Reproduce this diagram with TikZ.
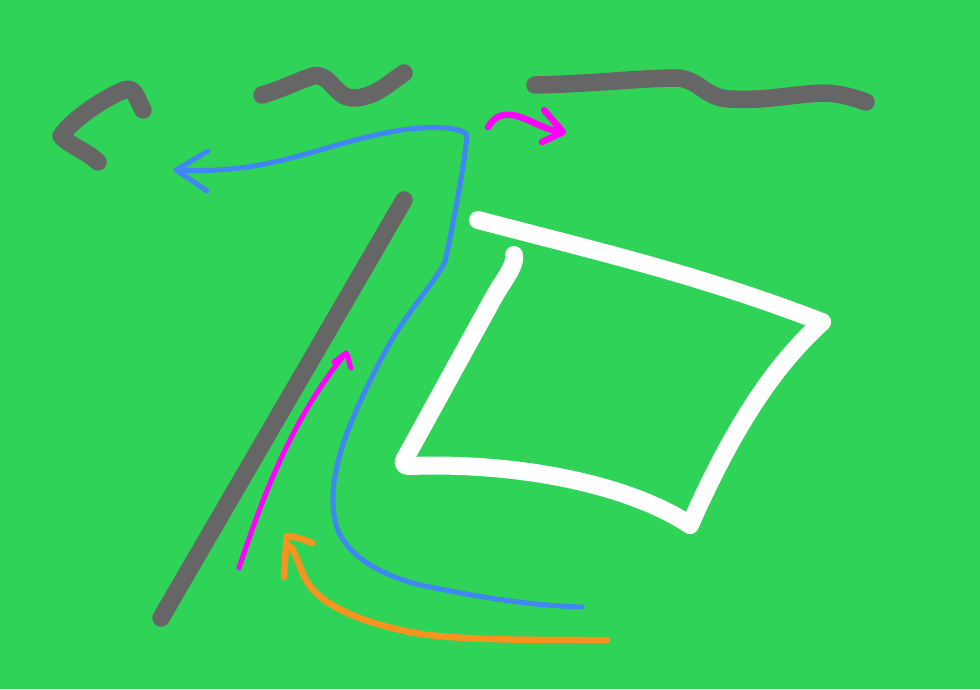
\documentclass[tikz,border=0pt]{standalone}
\begin{document}
\begin{tikzpicture}[x=1pt,y=-1pt,line cap=round,line join=round,
  grayst/.style={draw=strokegray,line width=17.5pt},
  bluest/.style={draw=penblue,line width=5pt},
  magst/.style={draw=penmag,line width=6.5pt},
  orst/.style={draw=penorange,line width=6.5pt},
  whst/.style={draw=white,line width=18pt}]
\definecolor{bggreen}{HTML}{2ED357}
\definecolor{strokegray}{HTML}{666666}
\definecolor{penblue}{HTML}{4285F4}
\definecolor{penmag}{HTML}{FF00FF}
\definecolor{penorange}{HTML}{F7931E}
\fill[bggreen] (0,0) rectangle (980,689);
\useasboundingbox (0,0) rectangle (980,689);
% gray strokes
\draw[grayst] (143,110) .. controls (136,98) and (135,86) .. (124,90) .. controls (100,100) and (70,122) .. (61,136) .. controls (70,146) and (88,152) .. (98,162);
\draw[grayst] (262,95) .. controls (285,88) and (300,80) .. (313,76) .. controls (330,72) and (335,98) .. (353,98) .. controls (375,98) and (390,82) .. (404,73);
\draw[grayst] (535,85) .. controls (590,84) and (640,78) .. (678,78) .. controls (700,80) and (705,98) .. (730,99) .. controls (770,101) and (790,94) .. (825,93) .. controls (845,94) and (860,100) .. (866,102);
\draw[grayst] (404,200) -- (161,618);
% blue
\draw[bluest] (582,607) .. controls (520,605) and (470,595) .. (420,585) .. controls (380,575) and (345,555) .. (336,525) .. controls (325,480) and (345,430) .. (378,365) .. controls (405,312) and (430,290) .. (445,262) .. controls (455,215) and (465,160) .. (467,135) .. controls (460,125) and (420,126) .. (390,132) .. controls (320,145) and (270,175) .. (176,170);
\draw[bluest] (208,151) -- (176,170) -- (207,191);
% magenta
\draw[magst] (488,127) .. controls (495,115) and (505,112) .. (520,117) .. controls (535,122) and (545,130) .. (562,132);
\draw[magst] (544,110) -- (563,132) -- (542,142);
\draw[draw=penmag,line width=5pt] (239,568) .. controls (260,505) and (290,420) .. (346,353);
\draw[draw=penmag,line width=5pt] (334,362) -- (346,353) .. controls (350,358) and (348,362) .. (351,368);
% orange
\draw[orst] (607,640) .. controls (520,640) and (450,640) .. (410,632) .. controls (350,620) and (315,600) .. (305,578) .. controls (298,565) and (294,545) .. (288,546);
\draw[orst] (284,577) .. controls (285,560) and (286,545) .. (287,536) .. controls (297,537) and (305,540) .. (312,543);
% white quadrilateral
\draw[whst] (478,220) .. controls (600,252) and (700,275) .. (822,322);
\draw[whst] (822,322) .. controls (790,352) and (745,400) .. (690,525);
\draw[whst] (690,525) .. controls (630,485) and (520,462) .. (410,466) .. controls (400,466) and (404,460) .. (407,455) -- (495,295) .. controls (505,278) and (516,265) .. (514,255);
\end{tikzpicture}
\end{document}
